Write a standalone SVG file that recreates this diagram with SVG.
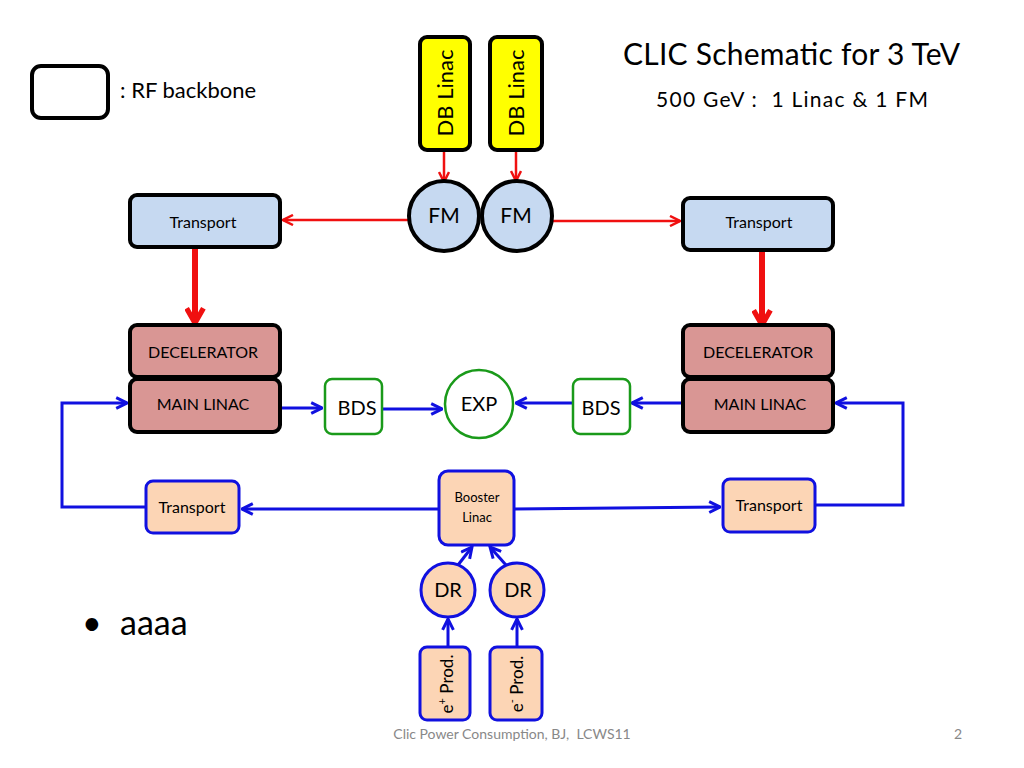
<svg xmlns="http://www.w3.org/2000/svg" width="1024" height="768" viewBox="0 0 1024 768">
<style>
text{font-family:Lato,"Open Sans","Liberation Sans",sans-serif;fill:#000}
.k{stroke:#000;stroke-width:4}
.b{stroke:#1010e0;stroke-width:3}
.g{stroke:#1a9a1a;stroke-width:2.5;fill:#fff}
.pk{fill:#fcd5b5}
.lb{fill:#c6d9f1}
.rd{fill:#d99694}
.rl{stroke:#f01010;stroke-width:2.5;fill:none}
.bl{stroke:#1010e0;stroke-width:3;fill:none}
</style>
<defs>
<marker id="ar" viewBox="0 0 10 10" refX="9" refY="5" markerWidth="5" markerHeight="5" orient="auto"><path d="M1,1 L9,5 L1,9" fill="none" stroke="#f01010" stroke-width="2"/></marker>
<marker id="arB" viewBox="0 0 10 10" refX="8" refY="5" markerWidth="3.5" markerHeight="3.5" orient="auto"><path d="M1,1 L8,5 L1,9" fill="none" stroke="#f01010" stroke-width="2.5"/></marker>
<marker id="ab" viewBox="0 0 10 10" refX="9" refY="5" markerWidth="4.5" markerHeight="4.5" orient="auto"><path d="M1,1 L9,5 L1,9" fill="none" stroke="#1010e0" stroke-width="2.2"/></marker>
</defs>
<rect width="1024" height="768" fill="#fff"/>
<g id="legend"><rect x="32" y="66" width="76" height="52" rx="9" fill="#fff" class="k"/><text x="120" y="98" font-size="22">: RF backbone</text></g>
<text x="623" y="65" font-size="30" textLength="337">CLIC Schematic for 3 TeV</text>
<text x="656" y="107" font-size="21" textLength="272">500 GeV :&#160;&#160;1 Linac &amp; 1 FM</text>
<g id="connectors">
<line x1="444" y1="150" x2="444" y2="182" class="rl" marker-end="url(#ar)"/>
<line x1="516" y1="150" x2="516" y2="181" class="rl" marker-end="url(#ar)"/>
<line x1="409" y1="220" x2="283" y2="220" class="rl" marker-end="url(#ar)"/>
<line x1="552" y1="221" x2="680" y2="221" class="rl" marker-end="url(#ar)"/>
<line x1="195" y1="248" x2="195" y2="323" stroke="#f01010" stroke-width="6" marker-end="url(#arB)"/>
<line x1="762" y1="252" x2="762" y2="325" stroke="#f01010" stroke-width="6" marker-end="url(#arB)"/>
<line x1="281" y1="408" x2="322" y2="408" class="bl" marker-end="url(#ab)"/>
<line x1="383" y1="409" x2="442" y2="409" class="bl" marker-end="url(#ab)"/>
<line x1="572" y1="403" x2="516" y2="403" class="bl" marker-end="url(#ab)"/>
<line x1="682" y1="403" x2="632" y2="403" class="bl" marker-end="url(#ab)"/>
<line x1="439" y1="509" x2="242" y2="509" class="bl" marker-end="url(#ab)"/>
<line x1="514" y1="509" x2="720" y2="507" class="bl" marker-end="url(#ab)"/>
<polyline points="146,507 62,507 62,403 127,403" class="bl" marker-end="url(#ab)"/>
<polyline points="815,505 903,505 903,403 836,403" class="bl" marker-end="url(#ab)"/>
<line x1="458" y1="565" x2="472" y2="547" class="bl" marker-end="url(#ab)"/>
<line x1="506" y1="565" x2="490" y2="547" class="bl" marker-end="url(#ab)"/>
<line x1="448" y1="646" x2="448" y2="619" class="bl" marker-end="url(#ab)"/>
<line x1="517" y1="646" x2="517" y2="619" class="bl" marker-end="url(#ab)"/>
</g>
<g id="db1"><rect x="420" y="37" width="50" height="113" rx="7" fill="#ffff00" class="k"/><text transform="translate(453,93) rotate(-90)" font-size="22" text-anchor="middle">DB Linac</text></g>
<g id="db2"><rect x="490" y="37" width="52" height="113" rx="7" fill="#ffff00" class="k"/><text transform="translate(524,93) rotate(-90)" font-size="22" text-anchor="middle">DB Linac</text></g>
<g id="fm1"><circle cx="444" cy="216" r="35" class="k lb"/><text x="444" y="223" font-size="21" text-anchor="middle">FM</text></g>
<g id="fm2"><circle cx="517" cy="216" r="35" class="k lb"/><text x="516" y="223" font-size="21" text-anchor="middle">FM</text></g>
<g id="tl"><rect x="130" y="195" width="150" height="52" rx="7" class="k lb"/><text x="203" y="228" font-size="16" text-anchor="middle">Transport</text></g>
<g id="tr"><rect x="683" y="198" width="150" height="52" rx="7" class="k lb"/><text x="759" y="228" font-size="16" text-anchor="middle">Transport</text></g>
<g id="decl"><rect x="130" y="325" width="150" height="52" rx="7" class="k rd"/><text x="203" y="358" font-size="16" text-anchor="middle">DECELERATOR</text></g>
<g id="mll"><rect x="130" y="379" width="150" height="53" rx="7" class="k rd"/><text x="203" y="410" font-size="16" text-anchor="middle">MAIN LINAC</text></g>
<g id="decr"><rect x="683" y="325" width="150" height="52" rx="7" class="k rd"/><text x="758" y="358" font-size="16" text-anchor="middle">DECELERATOR</text></g>
<g id="mlr"><rect x="683" y="379" width="150" height="53" rx="7" class="k rd"/><text x="760" y="410" font-size="16" text-anchor="middle">MAIN LINAC</text></g>
<g id="bdsl"><rect x="325" y="379" width="57" height="55" rx="7" class="g"/><text x="357" y="415" font-size="20" text-anchor="middle">BDS</text></g>
<g id="bdsr"><rect x="573" y="379" width="57" height="55" rx="7" class="g"/><text x="601" y="415" font-size="20" text-anchor="middle">BDS</text></g>
<g id="exp"><circle cx="479" cy="404" r="34" class="g"/><text x="479" y="411" font-size="20" text-anchor="middle">EXP</text></g>
<g id="btl"><rect x="146" y="481" width="93" height="52" rx="7" class="b pk"/><text x="192" y="513" font-size="16" text-anchor="middle">Transport</text></g>
<g id="btr"><rect x="723" y="479" width="92" height="53" rx="7" class="b pk"/><text x="769" y="511" font-size="16" text-anchor="middle">Transport</text></g>
<g id="booster"><rect x="439" y="471" width="75" height="74" rx="9" class="b pk"/><text x="477" y="502" font-size="13" text-anchor="middle">Booster</text><text x="477" y="522" font-size="13" text-anchor="middle">Linac</text></g>
<g id="dr1"><circle cx="448" cy="590" r="27" class="b pk"/><text x="448" y="597" font-size="20" text-anchor="middle">DR</text></g>
<g id="dr2"><circle cx="517" cy="590" r="27" class="b pk"/><text x="518" y="597" font-size="20" text-anchor="middle">DR</text></g>
<g id="ep"><rect x="420" y="647" width="50" height="73" rx="7" class="b pk"/><text transform="translate(453,684) rotate(-90)" font-size="17" text-anchor="middle">e<tspan font-size="11" dy="-7">+</tspan><tspan dy="7"> Prod.</tspan></text></g>
<g id="em"><rect x="490" y="647" width="52" height="73" rx="7" class="b pk"/><text transform="translate(523,684) rotate(-90)" font-size="17" text-anchor="middle">e<tspan font-size="11" dy="-7">-</tspan><tspan dy="7"> Prod.</tspan></text></g>
<text x="82" y="635" font-size="34">•</text>
<text x="120" y="635" font-size="34">aaaa</text>
<text x="512" y="739" font-size="14" style="fill:#888" text-anchor="middle">Clic Power Consumption, BJ,&#160; LCWS11</text>
<text x="958" y="739" font-size="14" style="fill:#888" text-anchor="middle">2</text>
</svg>
